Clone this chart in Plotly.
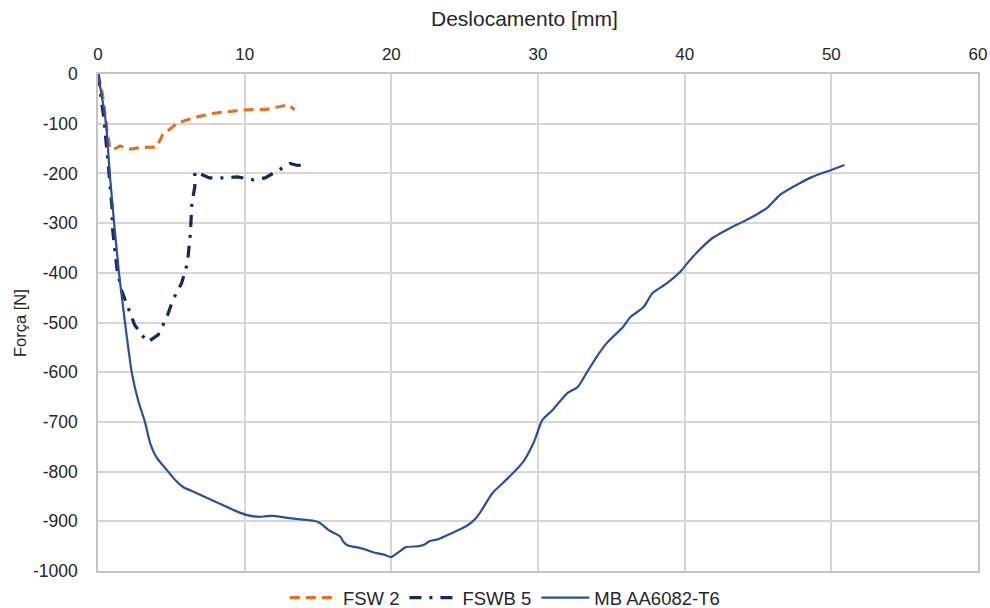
import plotly.graph_objects as go

# FSW 2 (orange dashed)
fsw2_x = [0.0, 0.3, 0.6, 0.8, 1.0, 1.5, 2.2, 3.0, 4.0, 4.4, 5.4, 6.5, 7.9, 10.1, 11.5, 13.0, 13.4]
fsw2_y = [0, -40, -110, -147, -153, -145, -151, -148, -147, -123, -99, -88, -79, -72, -71, -62, -72]

# FSWB 5 (navy dash-dot)
fswb5_x = [0.0, 0.4, 0.7, 0.95, 1.0, 1.3, 1.6, 2.1, 2.5, 3.1, 3.4, 4.1, 4.7, 5.1, 5.7, 6.1, 6.3,
           6.4, 6.6, 6.6, 6.8, 7.6, 8.5, 9.5, 10.6, 11.4, 12.4, 13.1, 13.6, 14.2]
fswb5_y = [0, -90, -183, -267, -314, -394, -435, -475, -505, -529, -539, -525, -489, -455, -421, -380, -320,
           -260, -227, -197, -199, -209, -209, -207, -213, -209, -193, -180, -184, -183]

# MB AA6082-T6 (solid blue)
mb_x = [0.0, 0.55, 0.8, 1.1, 1.43, 1.84, 2.3, 2.73, 3.2, 3.55, 4.0, 4.7, 5.3, 5.8, 6.7, 7.6, 8.5,
        9.3, 10.1, 11.0, 11.4, 11.9, 12.9, 13.8, 14.7, 15.1, 15.8, 16.5, 16.7, 17.0, 17.9, 19.0,
        19.5, 20.0, 20.5, 21.0, 21.9, 22.3, 22.6, 23.2, 23.8, 24.7, 25.2, 25.7, 26.04, 26.9,
        27.6, 28.3, 29.0, 29.7, 30.3, 31.0, 32.0, 32.7, 33.3, 34.0, 34.7, 35.8, 36.3, 37.2, 37.8,
        38.8, 39.7, 40.2, 40.8, 41.9, 43.1, 44.2, 45.6, 46.5, 47.9, 48.7, 50.0, 50.9]
mb_y = [0, -100, -200, -300, -400, -500, -600, -656, -700, -742, -772, -797, -818, -831, -843, -855, -867,
        -878, -887, -891, -890, -889, -893, -896, -899, -903, -919, -930, -940, -948, -954, -964,
        -967, -972, -962, -952, -950, -946, -940, -936, -928, -916, -908, -896, -883, -843,
        -823, -803, -780, -742, -696, -676, -642, -630, -602, -569, -541, -509, -489, -469, -441,
        -421, -398, -380, -360, -330, -310, -294, -270, -243, -219, -207, -193, -183]

x_ticks = [0, 10, 20, 30, 40, 50, 60]
y_ticks = [0, -100, -200, -300, -400, -500, -600, -700, -800, -900, -1000]
y_ticktext = ["0", "-100", "-200", "-300", "-400", "-500", "-600", "-700", "-800", "-900", "-1000"]

FAM = "Liberation Sans, Arial, sans-serif"
TXT = "#262626"

fig = go.Figure()
fig.add_trace(go.Scatter(x=fsw2_x, y=fsw2_y, mode="lines", name="FSW 2",
                         line=dict(color="#E07426", width=3.2, dash="10px,6px")))
fig.add_trace(go.Scatter(x=fswb5_x, y=fswb5_y, mode="lines", name="FSWB 5",
                         line=dict(color="#14285A", width=3.2, dash="12px,8px,3px,8px")))
fig.add_trace(go.Scatter(x=mb_x, y=mb_y, mode="lines", name="MB AA6082-T6",
                         line=dict(color="#2A4F9E", width=2.2, shape="spline", smoothing=0.6)))

fig.update_layout(
    width=990, height=608,
    margin=dict(l=98, r=12, t=74, b=37),
    paper_bgcolor="white", plot_bgcolor="white",
    font=dict(family=FAM, size=17, color=TXT),
    showlegend=True,
    legend=dict(orientation="h", xref="container", yref="container",
                x=0.51, xanchor="center", y=0.0164, yanchor="middle",
                font=dict(family=FAM, size=18.5, color=TXT),
                itemwidth=48, traceorder="normal"),
    xaxis=dict(side="top", range=[0, 60], tickvals=x_ticks, showgrid=True,
               gridcolor="#D6D6D6", gridwidth=1.5, zeroline=False, automargin=False,
               showline=True, linecolor="#C4C4C4", linewidth=1.5, mirror=True,
               ticks="", ticklabelstandoff=5, tickfont=dict(family=FAM, size=17, color=TXT)),
    yaxis=dict(range=[-1000, 0], tickvals=y_ticks, ticktext=y_ticktext, showgrid=True,
               gridcolor="#D6D6D6", gridwidth=1.5, zeroline=False, automargin=False,
               showline=True, linecolor="#C4C4C4", linewidth=1.5, mirror=True,
               ticks="", ticklabelstandoff=15, tickfont=dict(family=FAM, size=17.5, color=TXT)),
    annotations=[
        dict(text="Deslocamento [mm]", xref="paper", yref="paper", x=0.4847, y=1.112,
             xanchor="center", yanchor="middle", showarrow=False,
             font=dict(family=FAM, size=21, color=TXT)),
        dict(text="Força [N]", xref="paper", yref="paper", x=-0.0886, y=0.499,
             xanchor="center", yanchor="middle", showarrow=False, textangle=-90,
             font=dict(family=FAM, size=16.5, color=TXT)),
    ],
)

fig.write_html("out.html", config={"displayModeBar": False},
               post_script="document.body.style.margin='0';document.body.style.overflow='hidden';")
